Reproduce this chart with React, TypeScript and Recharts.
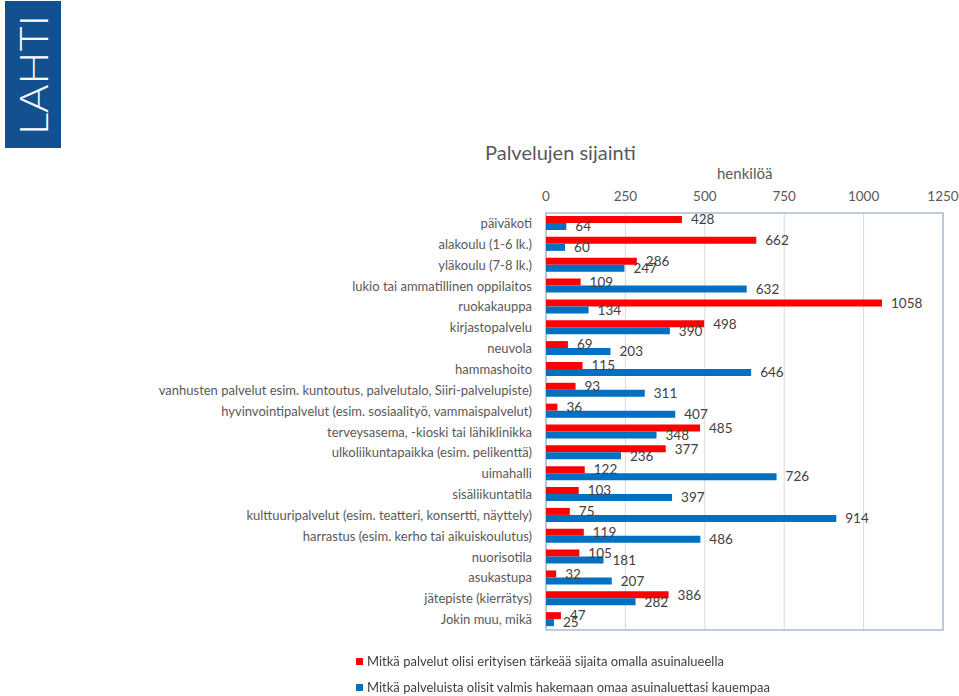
import React from 'react';
import { BarChart, Bar, XAxis, YAxis, CartesianGrid, LabelList, ReferenceArea } from 'recharts';

const categories = [
  'päiväkoti',
  'alakoulu (1-6 lk.)',
  'yläkoulu (7-8 lk.)',
  'lukio tai ammatillinen oppilaitos',
  'ruokakauppa',
  'kirjastopalvelu',
  'neuvola',
  'hammashoito',
  'vanhusten palvelut esim. kuntoutus, palvelutalo, Siiri-palvelupiste)',
  'hyvinvointipalvelut (esim. sosiaalityö, vammaispalvelut)',
  'terveysasema, -kioski tai lähiklinikka',
  'ulkoliikuntapaikka (esim. pelikenttä)',
  'uimahalli',
  'sisäliikuntatila',
  'kulttuuripalvelut (esim. teatteri, konsertti, näyttely)',
  'harrastus (esim. kerho tai aikuiskoulutus)',
  'nuorisotila',
  'asukastupa',
  'jätepiste (kierrätys)',
  'Jokin muu, mikä',
];

// punainen sarja
const importantNearby = [428, 662, 286, 109, 1058, 498, 69, 115, 93, 36, 485, 377, 122, 103, 75, 119, 105, 32, 386, 47];
// sininen sarja
const willingToTravel = [64, 60, 247, 632, 134, 390, 203, 646, 311, 407, 348, 236, 726, 397, 914, 486, 181, 207, 282, 25];

const xTicks = [0, 250, 500, 750, 1000, 1250];

const seriesNames = [
  'Mitkä palvelut olisi erityisen tärkeää sijaita omalla asuinalueella',
  'Mitkä palveluista olisit valmis hakemaan omaa asuinaluettasi kauempaa',
];

const RED = '#ff0000';
const BLUE = '#0070c0';
const FONT = 'Lato, "Open Sans", sans-serif';

const data = categories.map((name, i) => ({
  name,
  near: importantNearby[i],
  far: willingToTravel[i],
}));

function Logo() {
  return (
    <svg width={70} height={152} style={{ position: 'absolute', left: 0, top: 0 }}>
      <rect x={5} y={1} width={56} height={147} fill="#12508f" />
      <text
        x={48}
        y={135}
        transform="rotate(-90 48 135)"
        fill="#ffffff"
        fontSize={40}
        fontWeight={300}
        textLength={120}
        lengthAdjust="spacingAndGlyphs"
      >
        LAHTI
      </text>
    </svg>
  );
}

export default function App() {
  return (
    <div
      style={{
        position: 'fixed',
        left: 0,
        top: 0,
        width: 959,
        height: 696,
        background: '#fff',
        fontFamily: FONT,
      }}
    >
      <Logo />
      <div style={{ position: 'absolute', left: 485, top: 140, fontSize: 20, color: '#595959' }}>
        Palvelujen sijainti
      </div>
      <div style={{ position: 'absolute', left: 717, top: 164, fontSize: 15, color: '#595959' }}>
        henkilöä
      </div>

      <BarChart
        width={959}
        height={696}
        data={data}
        layout="vertical"
        margin={{ top: 183, right: 16, bottom: 66, left: 0 }}
        barSize={7}
        barGap={0}
      >
        <CartesianGrid horizontal={false} stroke="#d9d9d9" />
        <XAxis
          type="number"
          orientation="top"
          domain={[0, 1250]}
          ticks={xTicks}
          height={30}
          tickSize={0}
          tickMargin={12}
          axisLine={false}
          tickLine={false}
          tick={{ fill: '#595959', fontSize: 13.5 }}
        />
        <YAxis
          type="category"
          dataKey="name"
          width={546}
          interval={0}
          tickSize={0}
          tickMargin={14}
          axisLine={false}
          tickLine={false}
          tick={{ fill: '#595959', fontSize: 13 }}
        />
        <ReferenceArea x1={0} x2={1250} fill="none" stroke="#a9bcd6" strokeWidth={1.5} />
        <Bar dataKey="near" name={seriesNames[0]} fill={RED} isAnimationActive={false}>
          <LabelList dataKey="near" position="right" offset={9} fill="#404040" fontSize={13.5} />
        </Bar>
        <Bar dataKey="far" name={seriesNames[1]} fill={BLUE} isAnimationActive={false}>
          <LabelList dataKey="far" position="right" offset={9} fill="#404040" fontSize={13.5} />
        </Bar>
      </BarChart>

      <div style={{ position: 'absolute', left: 356, top: 648, fontSize: 13, color: '#404040' }}>
        {seriesNames.map((s, i) => (
          <div key={s} style={{ display: 'flex', alignItems: 'center', height: 26 }}>
            <span
              style={{
                display: 'inline-block',
                width: 7,
                height: 7,
                background: i === 0 ? RED : BLUE,
                marginRight: 4,
              }}
            />
            {s}
          </div>
        ))}
      </div>
    </div>
  );
}
